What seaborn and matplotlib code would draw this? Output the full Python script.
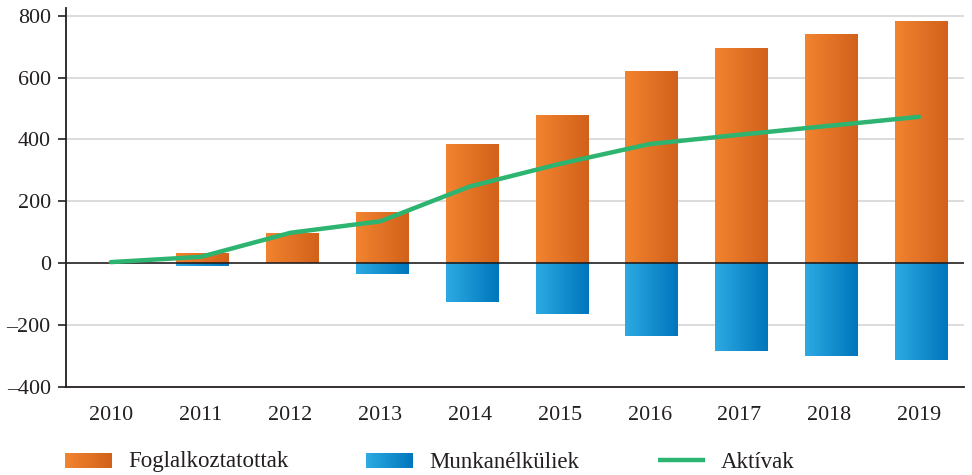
import numpy as np
import pandas as pd
import matplotlib
matplotlib.use("Agg")
import matplotlib.pyplot as plt
import seaborn as sns
from matplotlib.colors import LinearSegmentedColormap
from matplotlib.legend_handler import HandlerBase
from matplotlib.patches import Rectangle
from matplotlib.lines import Line2D

# Data
years = ["2010", "2011", "2012", "2013", "2014", "2015", "2016", "2017", "2018", "2019"]
foglalkoztatottak = [0, 30, 95, 163, 383, 476, 619, 693, 738, 780]
munkanelkuliek = [0, -8, 0, -35, -127, -164, -235, -283, -300, -313]
aktivak = [3, 20, 98, 135, 248, 321, 385, 415, 444, 473]

orange_grad = ["#F2832F", "#D2611B"]
blue_grad = ["#2CAAE2", "#0076BC"]
green = "#2DB470"
ink = "#231F20"

sns.set_style("white")
plt.rcParams["font.family"] = ["Liberation Serif", "DejaVu Serif"]
plt.rcParams["font.size"] = 15.8

df = pd.DataFrame({"ev": years, "fog": foglalkoztatottak,
                   "munk": munkanelkuliek, "akt": aktivak})

fig = plt.figure(figsize=(9.72, 4.75), dpi=100)
ax = fig.add_axes([66 / 972, 1 - 386.7 / 475, 898 / 972, (386.7 - 8) / 475])

sns.barplot(data=df, x="ev", y="fog", color=orange_grad[0], width=0.58, ax=ax)
n_orange = len(ax.patches)
sns.barplot(data=df, x="ev", y="munk", color=blue_grad[0], width=0.58, ax=ax)

# swap the flat bars for left-to-right gradients
grad = np.linspace(0, 1, 64).reshape(1, -1)
cm_o = LinearSegmentedColormap.from_list("o", orange_grad)
cm_b = LinearSegmentedColormap.from_list("b", blue_grad)
for i, p in enumerate(list(ax.patches)):
    x, y, w, h = p.get_x(), p.get_y(), p.get_width(), p.get_height()
    p.set_visible(False)
    if h == 0:
        continue
    cmap = cm_o if i < n_orange else cm_b
    ax.imshow(grad, extent=[x + 0.02, x + w + 0.02, y, y + h], cmap=cmap, aspect="auto",
              interpolation="bilinear", zorder=2)

sns.lineplot(data=df, x="ev", y="akt", color=green, linewidth=3.2, ax=ax,
             zorder=4, sort=False)

ax.set_xlim(-0.5, len(years) - 0.5)
ax.set_ylim(-400, 825)
ax.set_yticks([-400, -200, 0, 200, 400, 600, 800])
ax.set_yticklabels(["\u2013400", "\u2013200", "0", "200", "400", "600", "800"])
ax.set_xticks(np.arange(-0.5, len(years), 1.0))
ax.set_xticklabels([])
ax.set_xticks(np.arange(len(years)), minor=True)
ax.set_xticklabels(years, minor=True)
ax.tick_params(axis="x", which="major", direction="out", length=7, width=1.2, color=ink)
ax.tick_params(axis="x", which="minor", length=0, pad=14, colors=ink)
ax.tick_params(axis="y", direction="out", length=6, width=1.2, pad=5, colors=ink, left=True)
ax.set_xlabel("")
ax.set_ylabel("")

for y in [-200, 200, 400, 600, 800]:
    ax.axhline(y, color="#D9D9D9", linewidth=1.3, zorder=0)
ax.axhline(0, color=ink, linewidth=1.2, zorder=3)

for s in ["top", "right"]:
    ax.spines[s].set_visible(False)
for s in ["left", "bottom"]:
    ax.spines[s].set_color(ink)
    ax.spines[s].set_linewidth(1.3)

shift = 0.7  # points: keeps the text baseline level with the bottom of the swatch


class HandlerGradient(HandlerBase):
    def __init__(self, colors):
        super().__init__()
        self.cmap = LinearSegmentedColormap.from_list("g", colors)

    def create_artists(self, legend, orig_handle, xdescent, ydescent,
                       width, height, fontsize, trans):
        n = 30
        arts = []
        for k in range(n):
            r = Rectangle((-xdescent + width * k / n, -ydescent - shift), width / n * 1.05, height,
                          facecolor=self.cmap(k / (n - 1)), edgecolor="none",
                          transform=trans)
            arts.append(r)
        return arts


class HandlerFlatLine(HandlerBase):
    def create_artists(self, legend, orig_handle, xdescent, ydescent,
                       width, height, fontsize, trans):
        yc = height / 2 - ydescent - shift
        ln = Line2D([-xdescent, width - xdescent], [yc, yc], color=orig_handle.get_color(),
                    linewidth=orig_handle.get_linewidth(), solid_capstyle="butt",
                    transform=trans)
        return [ln]


# legend entries placed one by one, as in the original
h_o = Rectangle((0, 0), 1, 1)
h_b = Rectangle((0, 0), 1, 1)
h_g = Line2D([], [], color=green, linewidth=3.2)
entries = [(h_o, "Foglalkoztatottak", 65), (h_b, "Munkanélküliek", 366), (h_g, "Aktívak", 658)]
hmap = {h_o: HandlerGradient(orange_grad), h_b: HandlerGradient(blue_grad), h_g: HandlerFlatLine()}
fs = 16.5
fpx = fs / 72 * 100
for handle, label, xpx in entries:
    fig.legend([handle], [label], handler_map=hmap, loc="center left",
               bbox_to_anchor=(xpx / 972, 1 - 462 / 475), frameon=False,
               borderpad=0, borderaxespad=0, fontsize=fs,
               handlelength=47 / fpx, handleheight=15 / fpx,
               handletextpad=16 / fpx, labelcolor=ink)

fig.savefig("out.png", dpi=100)
